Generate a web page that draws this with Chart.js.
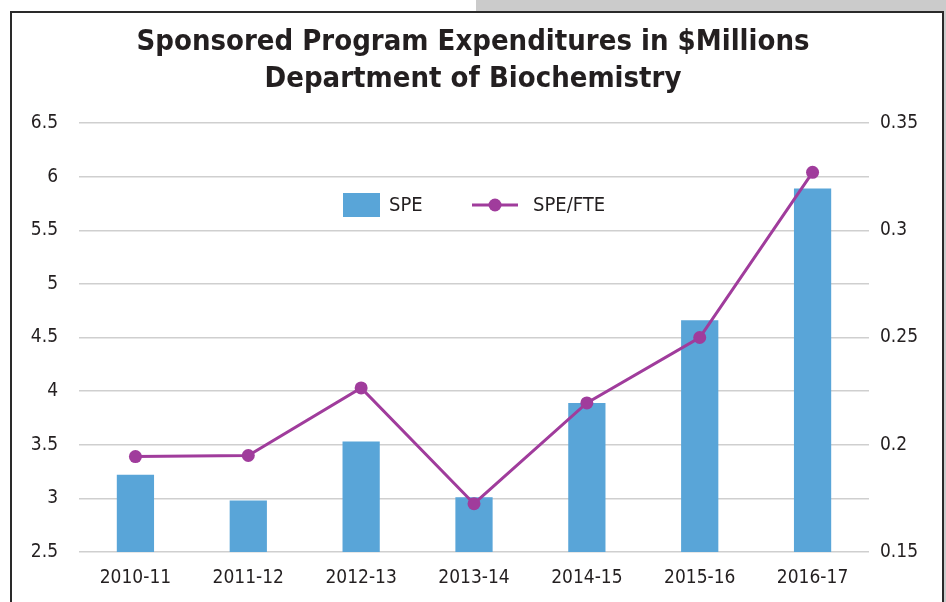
<!DOCTYPE html>
<html>
<head>
<meta charset="utf-8">
<script src="https://cdn.jsdelivr.net/npm/chart.js@4"></script>
<style>
  body { margin: 0; background: #fff; }
  #page { position: relative; width: 946px; height: 602px; overflow: hidden; }
  #backdrop { position: absolute; left: 476px; top: 0; width: 470px; height: 602px; background: #cbcbcb; }
  #frame { position: absolute; left: 10px; top: 11px; width: 930px; height: 620px; background: #fff; border: 2px solid #2a2a2a; }
  #chart-wrap { position: absolute; left: 0; top: 0; width: 946px; height: 602px; }
</style>
</head>
<body>
<div id="page">
  <div id="backdrop"></div>
  <div id="frame"></div>
  <div id="chart-wrap"><canvas id="speChart" width="946" height="602"></canvas></div>
</div>
<script>
// chart data
const years = ['2010-11', '2011-12', '2012-13', '2013-14', '2014-15', '2015-16', '2016-17'];
const spe = [3.22, 2.98, 3.53, 3.01, 3.89, 4.66, 5.89];
const spePerFte = [0.1945, 0.195, 0.2265, 0.1725, 0.2195, 0.250, 0.327];
const leftTicks = ['2.5', '3', '3.5', '4', '4.5', '5', '5.5', '6', '6.5'];
const rightTicks = ['0.15', '0.2', '0.25', '0.3', '0.35'];

const barColor = '#59a5d8';
const lineColor = '#a03c9c';
const fontFamily = "'DejaVu Sans Condensed', 'Liberation Sans', sans-serif";
const textColor = '#231f20';

// legend sits inside the plot area, so draw it by hand
const legendInside = {
    id: 'legendInside',
    afterDraw(chart) {
        const ctx = chart.ctx;
        const cy = 205;
        ctx.save();
        ctx.font = '20px ' + fontFamily;
        ctx.textBaseline = 'middle';
        ctx.textAlign = 'left';

        ctx.fillStyle = barColor;
        ctx.fillRect(343, cy - 12, 37, 24);
        ctx.fillStyle = textColor;
        ctx.fillText(chart.data.datasets[0].label, 389, cy + 1);

        ctx.strokeStyle = lineColor;
        ctx.lineWidth = 3;
        ctx.beginPath();
        ctx.moveTo(472, cy);
        ctx.lineTo(518, cy);
        ctx.stroke();
        ctx.fillStyle = lineColor;
        ctx.beginPath();
        ctx.arc(495, cy, 6.5, 0, Math.PI * 2);
        ctx.fill();
        ctx.fillStyle = textColor;
        ctx.fillText(chart.data.datasets[1].label, 533, cy + 1);
        ctx.restore();
    }
};

const ctx = document.getElementById('speChart').getContext('2d');
const speChart = new Chart(ctx, {
    type: 'bar',
    data: {
        labels: years,
        datasets: [{
            label: 'SPE',
            data: spe,
            backgroundColor: barColor,
            yAxisID: 'y',
            barPercentage: 0.33,
            categoryPercentage: 1,
            order: 1
        }, {
            type: 'line',
            label: 'SPE/FTE',
            data: spePerFte,
            borderColor: lineColor,
            backgroundColor: lineColor,
            borderWidth: 3,
            pointRadius: 6.5,
            pointBackgroundColor: lineColor,
            pointBorderWidth: 0,
            tension: 0,
            yAxisID: 'y1',
            order: 0
        }]
    },
    options: {
        responsive: false,
        animation: false,
        layout: { padding: 0 },
        plugins: {
            legend: { display: false },
            tooltip: { enabled: false },
            title: {
                display: true,
                text: ['Sponsored Program Expenditures in $Millions', 'Department of Biochemistry'],
                color: textColor,
                font: { family: fontFamily, size: 29, weight: 'bold', lineHeight: '37px' },
                padding: { top: 24, bottom: 25 }
            }
        },
        scales: {
            x: {
                grid: { display: false, drawTicks: false },
                border: { display: false },
                ticks: { color: textColor, padding: 15, font: { family: fontFamily, size: 19 } },
                afterFit: (scale) => { scale.height = 50; }
            },
            y: {
                position: 'left',
                min: 2.5,
                max: 6.5,
                grid: { color: '#cfcfcf', lineWidth: 1.5, drawTicks: false },
                border: { display: false },
                ticks: {
                    stepSize: 0.5,
                    padding: 21,
                    color: textColor,
                    font: { family: fontFamily, size: 19 },
                    callback: (v, i) => leftTicks[i]
                },
                afterFit: (scale) => { scale.width = 79; }
            },
            y1: {
                position: 'right',
                min: 0.15,
                max: 0.35,
                grid: { display: false, drawTicks: false },
                border: { display: false },
                ticks: {
                    stepSize: 0.05,
                    padding: 11,
                    color: textColor,
                    font: { family: fontFamily, size: 19 },
                    callback: (v, i) => rightTicks[i]
                },
                afterFit: (scale) => { scale.width = 77; }
            }
        }
    },
    plugins: [legendInside]
});
</script>
</body>
</html>
